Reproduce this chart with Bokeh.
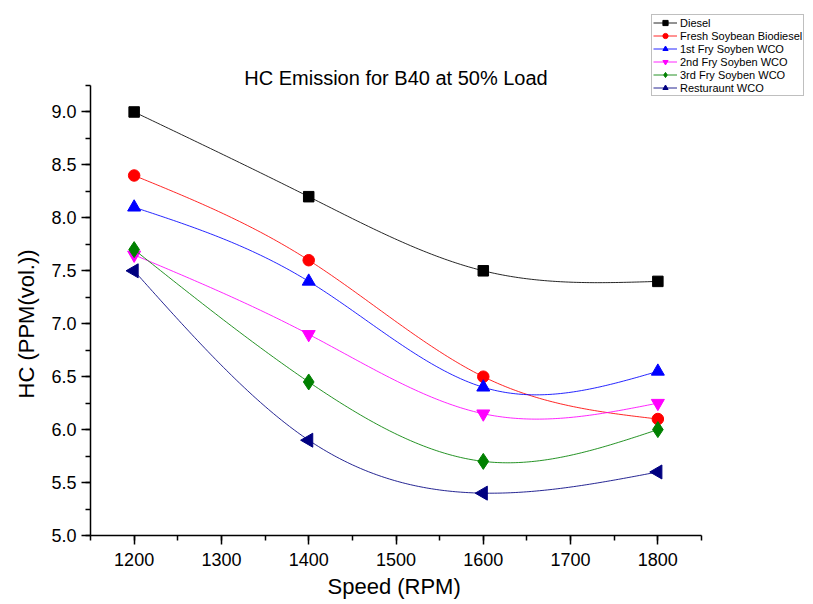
import numpy as np
from bokeh.plotting import figure
from bokeh.models import (Range1d, SingleIntervalTicker, PrintfTickFormatter,
                          Legend, LegendItem, Label, Title)
from bokeh.embed import file_html
from bokeh.resources import INLINE

# ---- data ----
speed = [1200, 1400, 1600, 1800]
diesel = [9.0, 8.2, 7.5, 7.4]
fresh_soybean = [8.4, 7.6, 6.5, 6.1]
fry1_soyben = [8.1, 7.4, 6.4, 6.55]
fry2_soyben = [7.65, 6.9, 6.15, 6.25]
fry3_soyben = [7.7, 6.45, 5.7, 6.0]
resturaunt = [7.5, 5.9, 5.4, 5.6]

series_names = ["Diesel", "Fresh Soybean Biodiesel", "1st Fry Soyben WCO",
                "2nd Fry Soyben WCO", "3rd Fry Soyben WCO", "Resturaunt WCO"]
series_values = [diesel, fresh_soybean, fry1_soyben, fry2_soyben, fry3_soyben, resturaunt]
colors = ["#000000", "#FF0000", "#0000FF", "#FF00FF", "#008000", "#000080"]
markers = ["square", "circle", "triangle", "inverted_triangle", "diamond", "triangle"]
angles = [0, 0, 0, 0, 0, np.pi / 2]
sizes = [10.5, 11.5, 13, 13, 16, 14]

x_axis_span = (1150, 1850)
y_axis_span = (5.0, 9.25)

FONT = "Liberation Sans"

# ---- page geometry (pixels) ----
W, H = 813, 604
LEFT, BOTTOM_Y = 90, 535          # axis corner
AXIS_RIGHT, AXIS_TOP = 701, 85    # where the drawn axes end
FRAME_TOP = 4                     # frame reaches up to the legend's top

frame_w = W - LEFT
frame_h = BOTTOM_Y - FRAME_TOP
x_ppu = (AXIS_RIGHT - LEFT) / (x_axis_span[1] - x_axis_span[0])
y_ppu = (BOTTOM_Y - AXIS_TOP) / (y_axis_span[1] - y_axis_span[0])
x_end = x_axis_span[0] + frame_w / x_ppu
y_end = y_axis_span[0] + frame_h / y_ppu


def natural_spline(x, y, n=200):
    """Smooth connecting curve (natural cubic spline) through the data points."""
    x = np.asarray(x, float)
    y = np.asarray(y, float)
    k = len(x)
    h = np.diff(x)
    A = np.zeros((k, k))
    b = np.zeros(k)
    A[0, 0] = 1
    A[-1, -1] = 1
    for i in range(1, k - 1):
        A[i, i - 1] = h[i - 1]
        A[i, i] = 2 * (h[i - 1] + h[i])
        A[i, i + 1] = h[i]
        b[i] = 6 * ((y[i + 1] - y[i]) / h[i] - (y[i] - y[i - 1]) / h[i - 1])
    M = np.linalg.solve(A, b)
    xs = np.linspace(x[0], x[-1], n)
    idx = np.clip(np.searchsorted(x, xs) - 1, 0, k - 2)
    x0, x1 = x[idx], x[idx + 1]
    hh = x1 - x0
    t0 = x1 - xs
    t1 = xs - x0
    ys = (M[idx] * t0 ** 3 / (6 * hh) + M[idx + 1] * t1 ** 3 / (6 * hh)
          + (y[idx] / hh - M[idx] * hh / 6) * t0
          + (y[idx + 1] / hh - M[idx + 1] * hh / 6) * t1)
    return xs, ys


p = figure(width=W, height=H, output_backend="svg", toolbar_location=None,
           x_range=Range1d(x_axis_span[0], x_end), y_range=Range1d(y_axis_span[0], y_end),
           min_border_left=LEFT, min_border_right=0, min_border_top=FRAME_TOP,
           min_border_bottom=H - BOTTOM_Y)

p.outline_line_color = None
p.grid.visible = False
p.background_fill_color = "white"
p.border_fill_color = "white"

p.xaxis.ticker = SingleIntervalTicker(interval=100, num_minor_ticks=2)
p.yaxis.ticker = SingleIntervalTicker(interval=0.5, num_minor_ticks=2)
p.xaxis.bounds = x_axis_span
p.yaxis.bounds = y_axis_span
p.yaxis.formatter = PrintfTickFormatter(format="%.1f")

for ax in (p.xaxis, p.yaxis):
    ax.axis_line_width = 1.5
    ax.axis_line_color = "black"
    ax.major_tick_line_color = "black"
    ax.minor_tick_line_color = "black"
    ax.major_tick_line_width = 1.5
    ax.minor_tick_line_width = 1.5
    ax.major_tick_out = 9
    ax.major_tick_in = 0
    ax.minor_tick_out = 5
    ax.minor_tick_in = 0
    ax.major_label_text_font = FONT
    ax.major_label_text_font_size = "18px"
    ax.major_label_text_color = "black"

p.xaxis.major_label_standoff = 8
p.yaxis.major_label_standoff = 5

# axis titles, centred on the drawn axis extents
xlab_text = "Speed (RPM)"
ylab_text = "HC (PPM(vol.))"
xlab = Title(text=xlab_text, align="left", offset=394 - LEFT - 67,
             text_font=FONT, text_font_size="22px", text_font_style="normal",
             text_color="black", standoff=6, vertical_align="bottom")
p.add_layout(xlab, "below")
ylab = Title(text=ylab_text, align="left", offset=(BOTTOM_Y - 323) - 75,
             text_font=FONT, text_font_size="22px", text_font_style="normal",
             text_color="black", standoff=19, vertical_align="bottom")
p.add_layout(ylab, "left")

# chart title, drawn as a label centred over the axes
title = Label(x=(AXIS_RIGHT - LEFT) / 2, y=BOTTOM_Y - 77, x_units="screen", y_units="screen",
              text="HC Emission for B40 at 50% Load", text_font=FONT,
              text_font_size="20px", text_align="center", text_baseline="middle",
              text_color="black")
p.add_layout(title)

items = []
for name, vals, c, m, a, s in zip(series_names, series_values, colors, markers, angles, sizes):
    xs, ys = natural_spline(speed, vals)
    r_line = p.line(xs, ys, line_color=c, line_width=1, line_alpha=0.85)
    r_mark = p.scatter(speed, vals, marker=m, angle=a, size=s,
                       fill_color=c, line_color=c)
    items.append(LegendItem(label=name, renderers=[r_line, r_mark]))

legend = Legend(items=items, location=(651 - LEFT, BOTTOM_Y - 96))
legend.label_text_font = FONT
legend.label_text_font_size = "11px"
legend.label_text_color = "black"
legend.label_height = 13
legend.glyph_height = 13
legend.glyph_width = 24
legend.label_standoff = 3
legend.spacing = 0
legend.padding = 1
legend.margin = 0
legend.border_line_color = "#808080"
legend.border_line_width = 1
legend.background_fill_color = "white"
legend.background_fill_alpha = 1
p.add_layout(legend, "center")

open("out.html", "w").write(file_html(p, INLINE))
